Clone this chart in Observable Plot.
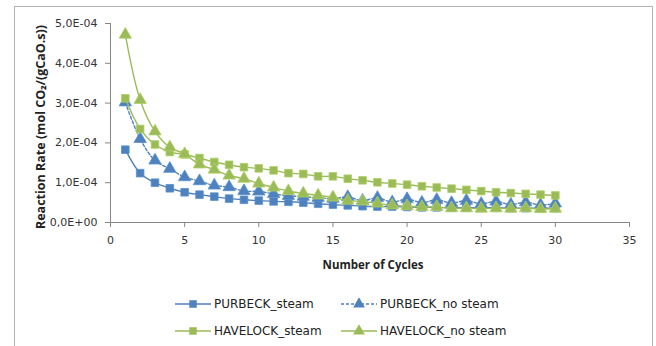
<!DOCTYPE html>
<html>
<head>
<meta charset="utf-8">
<script src="https://cdn.jsdelivr.net/npm/d3@7"></script>
<script src="https://cdn.jsdelivr.net/npm/@observablehq/plot@0.6"></script>
<style>
  body { margin:0; width:656px; height:346px; position:relative; overflow:hidden; background:#fff; font-family:"DejaVu Sans",sans-serif; }
  #frame { position:absolute; left:14px; top:6px; width:639px; height:400px; border:1.5px solid #b3b3b3; box-sizing:border-box; }
  #chart { position:absolute; left:0; top:0; }
  #xlabel { position:absolute; top:257px; left:45px; width:656px; text-align:center; font-weight:bold; font-size:11.5px; color:#222; font-family:"Open Sans",sans-serif; }
  .item { position:absolute; display:flex; align-items:center; font-size:12px; color:#222; white-space:nowrap; }
  .item svg { margin-right:3px; }
</style>
</head>
<body>
<div id="frame"></div>
<div id="chart"></div>
<div id="xlabel">Number of Cycles</div>
<div id="legend"></div>
<script>
const cycles = [1,2,3,4,5,6,7,8,9,10,11,12,13,14,15,16,17,18,19,20,21,22,23,24,25,26,27,28,29,30];
const purbeckSteam   = [1.83e-4,1.24e-4,1.00e-4,0.86e-4,0.76e-4,0.70e-4,0.65e-4,0.60e-4,0.57e-4,0.55e-4,0.53e-4,0.52e-4,0.50e-4,0.47e-4,0.45e-4,0.43e-4,0.41e-4,0.40e-4,0.40e-4,0.39e-4,0.38e-4,0.38e-4,0.37e-4,0.37e-4,0.37e-4,0.37e-4,0.36e-4,0.36e-4,0.36e-4,0.36e-4];
const purbeckNoSteam = [3.02e-4,2.10e-4,1.56e-4,1.35e-4,1.14e-4,1.04e-4,0.93e-4,0.89e-4,0.79e-4,0.78e-4,0.72e-4,0.67e-4,0.65e-4,0.62e-4,0.60e-4,0.64e-4,0.55e-4,0.62e-4,0.51e-4,0.59e-4,0.50e-4,0.57e-4,0.49e-4,0.55e-4,0.47e-4,0.53e-4,0.45e-4,0.51e-4,0.44e-4,0.48e-4];
const havelockSteam  = [3.12e-4,2.35e-4,1.96e-4,1.77e-4,1.71e-4,1.62e-4,1.52e-4,1.45e-4,1.39e-4,1.36e-4,1.31e-4,1.24e-4,1.22e-4,1.16e-4,1.16e-4,1.10e-4,1.06e-4,1.01e-4,0.98e-4,0.95e-4,0.91e-4,0.88e-4,0.85e-4,0.82e-4,0.79e-4,0.76e-4,0.74e-4,0.72e-4,0.70e-4,0.68e-4];
const havelockNoSteam= [4.72e-4,3.08e-4,2.29e-4,1.89e-4,1.72e-4,1.46e-4,1.33e-4,1.18e-4,1.10e-4,0.98e-4,0.88e-4,0.79e-4,0.73e-4,0.68e-4,0.63e-4,0.55e-4,0.53e-4,0.48e-4,0.43e-4,0.41e-4,0.39e-4,0.39e-4,0.36e-4,0.36e-4,0.35e-4,0.36e-4,0.35e-4,0.36e-4,0.34e-4,0.35e-4];
const seriesNames = ["PURBECK_steam","PURBECK_no steam","HAVELOCK_steam","HAVELOCK_no steam"];
const xTicks = [0,5,10,15,20,25,30,35];
const yTicks = [0,1e-4,2e-4,3e-4,4e-4,5e-4];
const yTickLabels = ["0,0E+00","1,0E-04","2,0E-04","3,0E-04","4,0E-04","5,0E-04"];
const xLabel = "Number of Cycles";
const yLabel = "Reaction Rate (mol CO\u2082/(gCaO.s))";

const BLUE = "#4F81BD", GREEN = "#9BBB59";
const styles = [
  {color: BLUE, symbol: "square", dash: null},
  {color: BLUE, symbol: "triangle", dash: "3,2"},
  {color: GREEN, symbol: "square", dash: null},
  {color: GREEN, symbol: "triangle", dash: null}
];
const values = [purbeckSteam, purbeckNoSteam, havelockSteam, havelockNoSteam];
const rowsFor = (k) => cycles.map((c, i) => ({cycle: c, rate: values[k][i], series: seriesNames[k]}));

const marks = [
  Plot.ruleY([0], {stroke: "#868686"}),
  Plot.ruleX([0], {stroke: "#868686"}),
  Plot.axisX({ticks: xTicks, tickSize: 5, tickPadding: 9, label: null, stroke: "#868686", color: "#333"}),
  Plot.axisY({ticks: yTicks, tickSize: 5, tickPadding: 8, label: null, stroke: "#868686", color: "#333",
    tickFormat: d => yTickLabels[yTicks.findIndex(t => Math.abs(t - d) < 1e-9)]}),
  Plot.text([yLabel], {frameAnchor: "left", rotate: -90, dx: -70, dy: 4, textAnchor: "middle", text: d => d,
    fontWeight: "bold", fontSize: 12.5, fontFamily: "'Open Sans',sans-serif", fill: "#222"})
];
seriesNames.forEach((name, k) => {
  const st = styles[k];
  const rows = rowsFor(k);
  marks.push(Plot.line(rows, {x: "cycle", y: "rate", stroke: st.color, strokeWidth: 1.4, curve: "catmull-rom", strokeDasharray: st.dash}));
  marks.push(Plot.dot(rows, {x: "cycle", y: "rate", symbol: () => st.symbol, fill: st.color, stroke: d3.color(st.color).brighter(0.3).formatHex(), strokeWidth: 0.8, r: st.symbol === "square" ? 4.3 : 4.6}));
});

const chart = Plot.plot({
  width: 656, height: 252,
  marginLeft: 110, marginRight: 27, marginTop: 23, marginBottom: 30,
  x: {domain: [0, 35]},
  y: {domain: [0, 5e-4]},
  symbol: {type: "identity"},
  style: {fontFamily: "'DejaVu Sans',sans-serif", fontSize: "11px", background: "transparent"},
  marks
});
document.getElementById("chart").appendChild(chart);

// legend
const legend = document.getElementById("legend");
const pos = [[175, 305], [341, 305], [175, 332], [341, 332]];
seriesNames.forEach((name, k) => {
  const st = styles[k];
  const item = document.createElement("div");
  item.className = "item";
  item.style.left = pos[k][0] + "px";
  item.style.top = (pos[k][1] - 8) + "px";
  const svg = d3.create("svg").attr("width", 36).attr("height", 14);
  svg.append("line").attr("x1", 0).attr("x2", 36).attr("y1", 7).attr("y2", 7)
    .attr("stroke", st.color).attr("stroke-width", 1.4).attr("stroke-dasharray", st.dash);
  svg.append("path").attr("transform", "translate(18,7)")
    .attr("d", d3.symbol(st.symbol === "square" ? d3.symbolSquare : d3.symbolTriangle, st.symbol === "square" ? 56 : 60)())
    .attr("fill", st.color);
  item.appendChild(svg.node());
  const span = document.createElement("span");
  span.textContent = name;
  item.appendChild(span);
  legend.appendChild(item);
});
</script>
</body>
</html>
